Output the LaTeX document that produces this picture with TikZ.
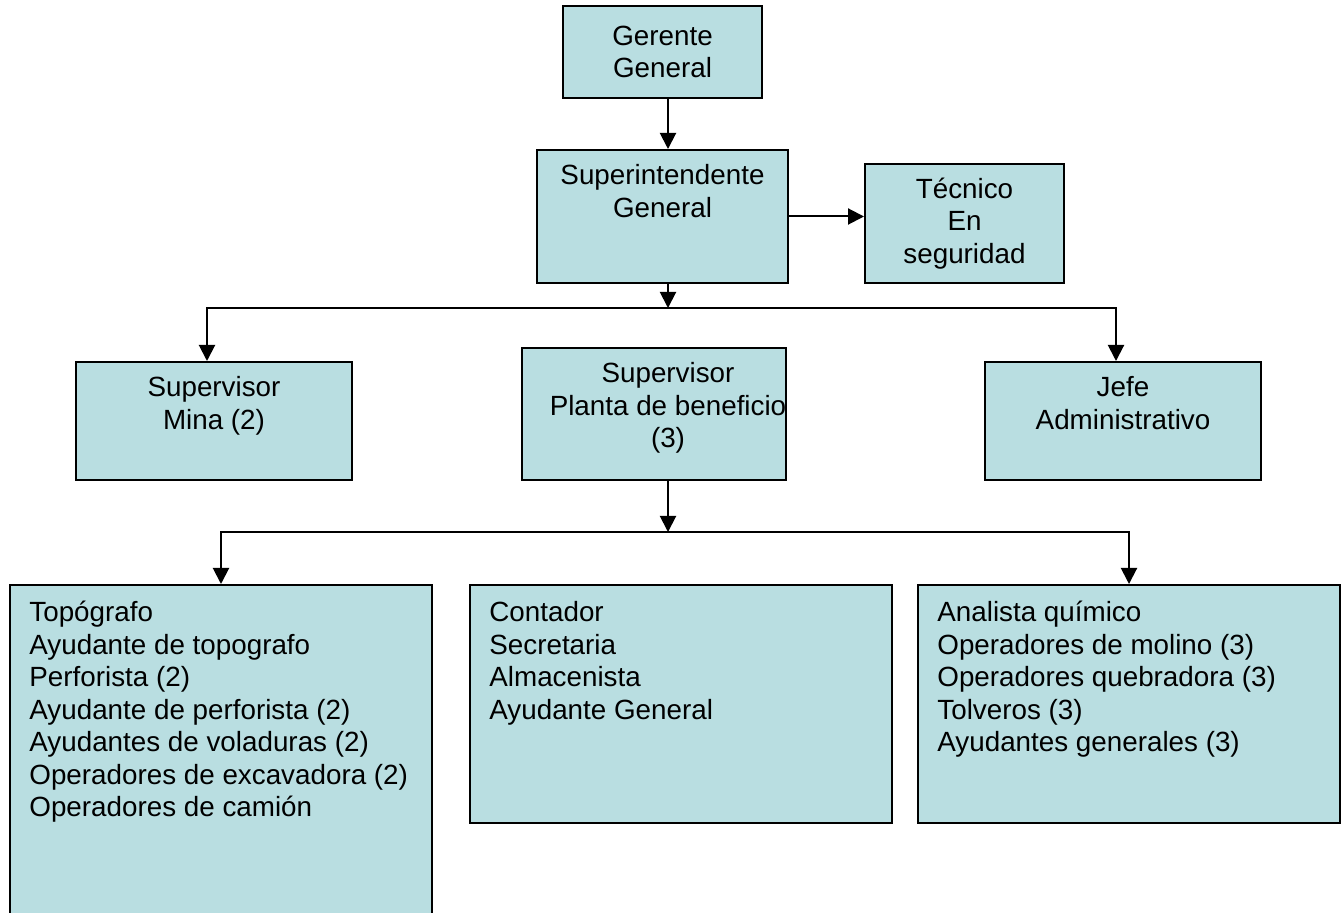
\documentclass[tikz,border=0pt]{standalone}
\usepackage{fontspec}
\setmainfont{Liberation Sans}
\usepackage{tikz}
\usetikzlibrary{positioning,arrows.meta,calc}

\definecolor{boxfill}{RGB}{185,222,225}
\newcommand{\orgfont}{\fontsize{13.9pt}{16.25pt}\selectfont}

\begin{document}
\begin{tikzpicture}[x=0.5pt,y=-0.5pt,
    box/.style={draw,fill=boxfill,line width=1pt,inner sep=0pt,font=\orgfont,align=center},
    boxtext/.style={inner sep=0pt,font=\orgfont,align=center},
    listtext/.style={inner sep=0pt,font=\orgfont,align=left},
    link/.style={line width=1pt,-{Triangle[width=8pt,length=8pt]}}]
        \useasboundingbox (0,0) rectangle (1343,913);
        \clip (0,0) rectangle (1343,913);
        % upper levels
        \node[box,minimum width=99.5pt,minimum height=46pt] (gerente) at (662.5,52) {Gerente\\General};
        \node[box,minimum width=125.5pt,minimum height=66.5pt] (superint) at (662.5,216.5) {};
        \node[boxtext,below=7.5pt of superint.north] (superinttxt) {Superintendente\\General};
        \node[box,minimum width=99.5pt,minimum height=59.5pt] (tecnico) at (964.5,223.5) {Técnico\\En\\seguridad};
        \node[box,minimum width=138pt,minimum height=59pt] (mina) at (214,421) {};
        \node[boxtext,below=7.5pt of mina.north] (minatxt) {Supervisor\\Mina (2)};
        \node[box,minimum width=132pt,minimum height=66pt] (planta) at (654,414) {};
        \node[boxtext,below=7.5pt of planta.north,xshift=7pt] (plantatxt) {Supervisor\\Planta de beneficio\\(3)};
        \node[box,minimum width=138pt,minimum height=59pt] (jefe) at (1123,421) {};
        \node[boxtext,below=7.5pt of jefe.north] (jefetxt) {Jefe\\Administrativo};
        % staff lists
        \node[box,minimum width=211pt,minimum height=177.5pt] (topo) at (221,762.5) {};
        \node[listtext,below right=8.5pt and 10pt of topo.north west] (topotxt)
            {Topógrafo\\Ayudante de topografo\\Perforista (2)\\Ayudante de perforista (2)\\
             Ayudantes de voladuras (2)\\Operadores de excavadora (2)\\Operadores de camión};
        \node[box,minimum width=211pt,minimum height=119pt] (contador) at (681,704) {};
        \node[listtext,below right=8.5pt and 10pt of contador.north west] (contadortxt)
            {Contador\\Secretaria\\Almacenista\\Ayudante General};
        \node[box,minimum width=211pt,minimum height=119pt] (analista) at (1129,704) {};
        \node[listtext,below right=8.5pt and 10pt of analista.north west] (analistatxt)
            {Analista químico\\Operadores de molino (3)\\Operadores quebradora (3)\\Tolveros (3)\\Ayudantes generales (3)};
        % connectors
        \coordinate (spine) at (668,0);
        \coordinate (bus1) at (668,308);
        \coordinate (bus1w) at (207,308);
        \coordinate (bus1e) at (1116,308);
        \coordinate (bus2) at (668,532);
        \draw[link] (gerente.south -| spine) -- (superint.north -| spine);
        \draw[link] (superint.east) -- (tecnico.west |- superint.east);
        \draw[link] (superint.south -| spine) -- (bus1);
        \draw[link] (bus1) -| (mina.north -| bus1w);
        \draw[link] (bus1) -| (jefe.north -| bus1e);
        \draw[link] (planta.south -| spine) -- (bus2);
        \draw[link] (bus2) -| (topo.north);
        \draw[link] (bus2) -| (analista.north);
    \end{tikzpicture}
\end{document}
